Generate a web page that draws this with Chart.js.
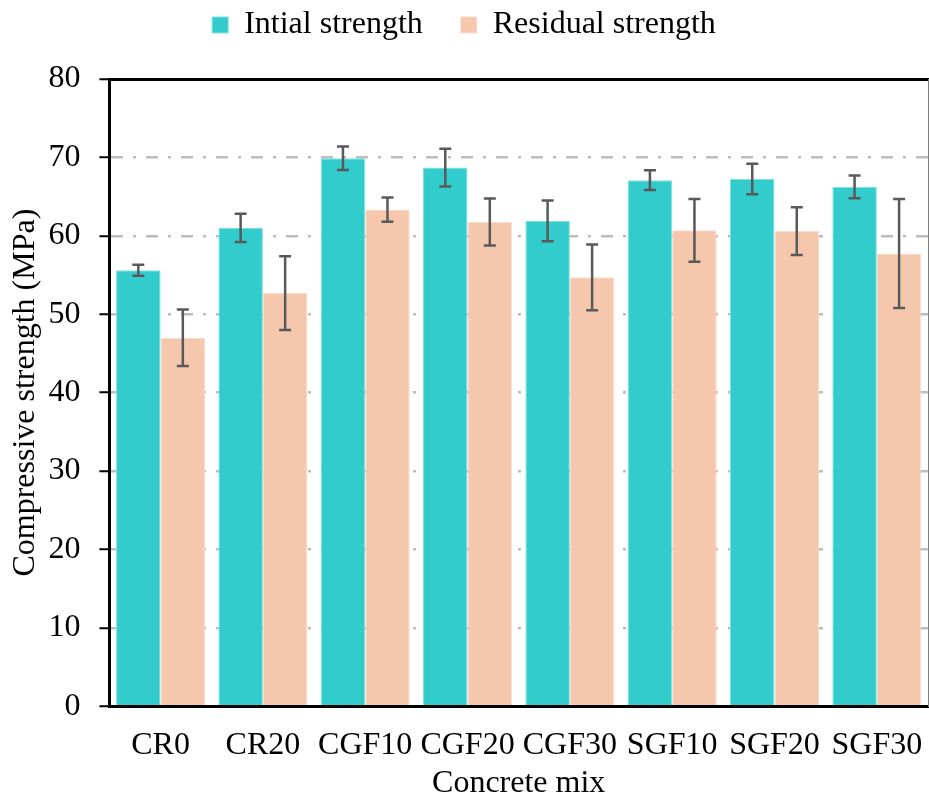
<!DOCTYPE html>
<html>
<head>
<meta charset="utf-8">
<script src="https://cdn.jsdelivr.net/npm/chart.js@4/dist/chart.umd.min.js"></script>
<style>
  html, body { margin: 0; padding: 0; background: #ffffff; }
  #wrap { width: 929px; height: 803px; }
</style>
</head>
<body>
<div id="wrap"><canvas id="chart" width="929" height="803"></canvas></div>
<script>
// Concrete mixes and their compressive strengths (MPa), mean and standard deviation
const mixes = ['CR0', 'CR20', 'CGF10', 'CGF20', 'CGF30', 'SGF10', 'SGF20', 'SGF30'];
const initialStrength = [55.6, 61.0, 69.9, 68.7, 61.9, 67.1, 67.25, 66.25];
const initialError    = [0.7, 1.8, 1.5, 2.4, 2.6, 1.25, 1.95, 1.45];
const residualStrength = [47.0, 52.7, 63.35, 61.75, 54.7, 60.7, 60.6, 57.75];
const residualError    = [3.6, 4.7, 1.55, 3.0, 4.2, 4.0, 3.05, 6.95];
const yTicks = [0, 10, 20, 30, 40, 50, 60, 70, 80];

const TEAL = '#33CCCC';
const PEACH = '#F5C7AD';

// Draws the +/- error whiskers on top of each bar using the value scale
const errorBars = {
  id: 'errorBars',
  afterDatasetsDraw(chart) {
    const { ctx } = chart;
    const yScale = chart.scales.y;
    chart.data.datasets.forEach((ds, di) => {
      const meta = chart.getDatasetMeta(di);
      if (meta.hidden) return;
      meta.data.forEach((bar, i) => {
        const v = ds.data[i];
        const e = ds.errors[i];
        const yTop = yScale.getPixelForValue(v + e);
        const yBot = yScale.getPixelForValue(v - e);
        const x = bar.x;
        const cap = 6;
        ctx.save();
        ctx.strokeStyle = '#595959';
        ctx.lineWidth = 2.5;
        ctx.beginPath();
        ctx.moveTo(x, yTop); ctx.lineTo(x, yBot);
        ctx.moveTo(x - cap, yTop); ctx.lineTo(x + cap, yTop);
        ctx.moveTo(x - cap, yBot); ctx.lineTo(x + cap, yBot);
        ctx.stroke();
        ctx.restore();
      });
    });
  }
};

Chart.defaults.font.family = '"Liberation Serif", "Times New Roman", serif';
Chart.defaults.font.size = 32;
Chart.defaults.color = '#000000';

new Chart(document.getElementById('chart'), {
  type: 'bar',
  data: {
    labels: mixes,
    datasets: [
      {
        label: 'Intial strength',
        data: initialStrength,
        errors: initialError,
        backgroundColor: TEAL,
        borderColor: '#7FE0E0',
        borderWidth: 1,
        categoryPercentage: 0.87,
        barPercentage: 1.0
      },
      {
        label: 'Residual strength',
        data: residualStrength,
        errors: residualError,
        backgroundColor: PEACH,
        borderColor: '#FADCCB',
        borderWidth: 1,
        categoryPercentage: 0.87,
        barPercentage: 1.0
      }
    ]
  },
  options: {
    responsive: false,
    animation: false,
    layout: { padding: { top: -29, right: 1, bottom: 0, left: 0 } },
    plugins: {
      legend: {
        display: true,
        position: 'top',
        labels: {
          boxWidth: 16,
          boxHeight: 16,
          padding: 38,
          font: { size: 32 },
          color: '#000000'
        }
      },
      tooltip: { enabled: false }
    },
    scales: {
      x: {
        position: 'bottom',
        // invisible tick marks keep the gap between the axis and its labels
        grid: {
          display: true,
          drawOnChartArea: false,
          drawTicks: true,
          tickLength: 20,
          color: 'rgba(0,0,0,0)',
          tickColor: 'rgba(0,0,0,0)'
        },
        border: { display: true, color: '#000000', width: 3 },
        ticks: {
          padding: 0,
          maxRotation: 0,
          minRotation: 0,
          autoSkip: false,
          font: { size: 32 },
          color: '#000000'
        },
        title: {
          display: true,
          text: 'Concrete mix',
          font: { size: 32 },
          color: '#000000',
          padding: { top: 0, bottom: 0 }
        }
      },
      xTop: {
        type: 'category',
        position: 'top',
        labels: mixes,
        grid: {
          display: true,
          drawOnChartArea: false,
          drawTicks: true,
          tickLength: 28,
          color: 'rgba(0,0,0,0)',
          tickColor: 'rgba(0,0,0,0)'
        },
        ticks: { display: false },
        border: { display: true, color: '#000000', width: 3 }
      },
      y: {
        min: 0,
        max: 80,
        afterBuildTicks(scale) { scale.ticks = yTicks.map(v => ({ value: v })); },
        grid: {
          color: (c) => (c.tick && (c.tick.value === 0 || c.tick.value === 80)) ? 'rgba(0,0,0,0)' : '#BDBDBD',
          lineWidth: 2.5,
          drawTicks: true,
          tickLength: 10,
          tickColor: '#000000',
          tickWidth: 2,
          tickBorderDash: []
        },
        border: { display: true, color: '#000000', width: 3, dash: [12, 10, 3, 10] },
        ticks: { padding: 19, font: { size: 32 }, color: '#000000' },
        title: {
          display: true,
          text: 'Compressive strength (MPa)',
          font: { size: 32 },
          color: '#000000',
          padding: { top: 6, bottom: -15 }
        }
      },
      yRight: {
        position: 'right',
        min: 0,
        max: 80,
        grid: { display: false, drawTicks: false },
        ticks: { display: false },
        border: { display: true, color: '#7F7F7F', width: 1 }
      }
    }
  },
  plugins: [errorBars]
});
</script>
</body>
</html>
